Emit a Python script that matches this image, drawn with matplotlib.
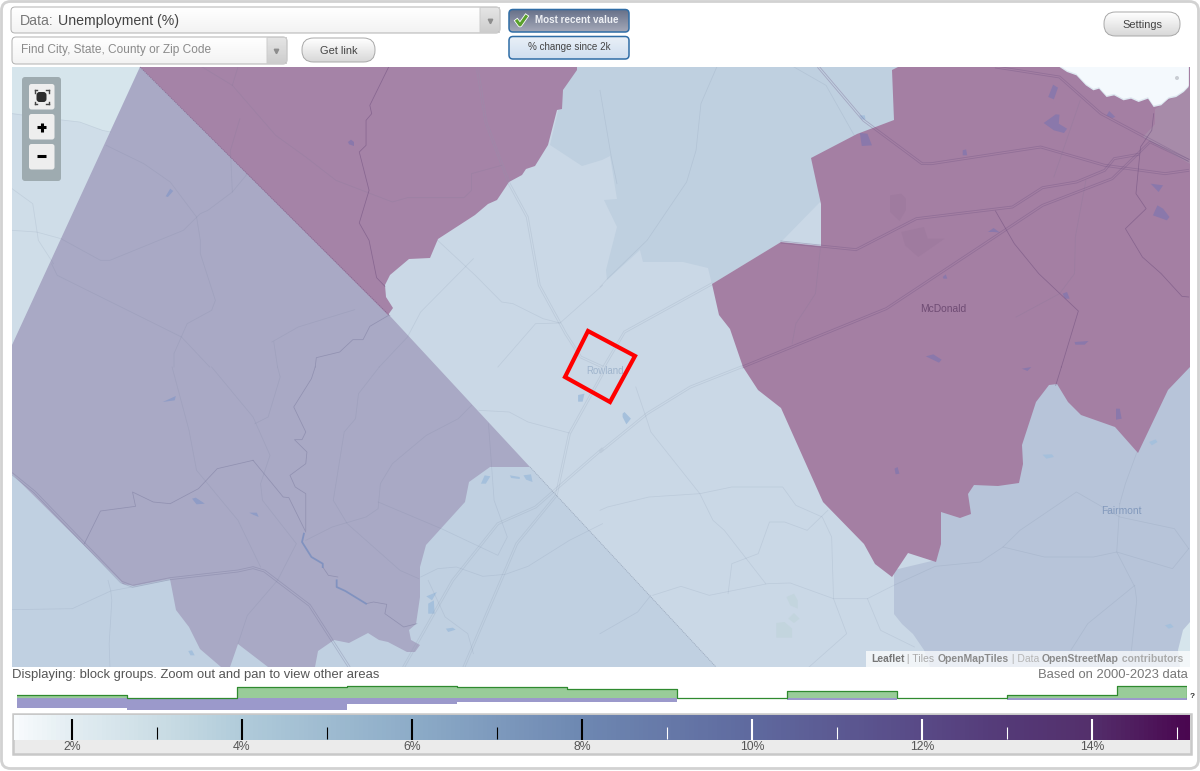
import numpy as np
import matplotlib
matplotlib.use("Agg")
import matplotlib.pyplot as plt
from matplotlib.patches import Polygon, Rectangle, FancyBboxPatch
from matplotlib.colors import LinearSegmentedColormap, to_rgb

plt.rcParams['font.family'] = ['Liberation Sans', 'DejaVu Sans']

# ---------- histogram + colour scale data ----------
bin_edges = [0, 1, 2, 3, 4, 5, 6, 7, 8, 9, 10, 10.64]
green_counts = [3, 0.5, 11, 12.5, 11, 9, 0.3, 7, 0.3, 3, 12.5]
purple_counts = [10, 12, 12, 6, 4, 4, 0, 2, 0, 2, 2]
major_ticks = [2, 4, 6, 8, 10, 12, 14]
minor_ticks = [3, 5, 7, 9, 11, 13, 15]
major_labels = ['2%', '4%', '6%', '8%', '10%', '12%', '14%']
scale_vals = [1.32, 2, 3, 4, 6, 8, 10, 12, 13, 14, 15.15]
scale_cols = ['#f8fbfd', '#e2edf2', '#cbdde5', '#b0cbda', '#8dacc8', '#6e88b2',
              '#5f6a9f', '#594a87', '#553a78', '#54306c', '#4a0750']

# ---------- map shapes ----------
Q1, Q2, Q3, Q4 = (12, 67), (12, 367), (600, 67), (600, 367)

poly_corner_light = [(12, 67), (140, 67), (12, 345)]
poly_corner_band = [(12, 113), (50, 118), (80, 122), (102, 130), (111, 132), (12, 345)]
poly_lowerleft = [(12, 440), (530, 467), (716, 667), (12, 667)]
poly_uppercentre = [(563, 90), (550, 145), (582, 166), (602, 160), (610, 156), (617, 199), (604, 200),
                    (617, 227), (606, 270), (607, 280), (640, 250), (643, 262), (683, 262), (708, 268),
                    (712, 284), (781, 242), (900, 120), (900, 67), (570, 67)]
poly_lowerright = [(894, 570), (894, 614), (902, 624), (913, 634), (924, 650), (930, 667), (1190, 667),
                   (1190, 360), (1040, 360), (1000, 470), (941, 500), (936, 560)]
poly_corner_br = [(1190, 622), (1183, 630), (1178, 650), (1180, 667), (1190, 667)]
poly_leftpurple = [(140, 67), (390, 316), (530, 467), (490, 467), (469, 482), (465, 502), (426, 545),
                   (420, 567), (420, 597), (416, 624), (409, 630), (411, 640), (420, 645), (415, 652),
                   (407, 652), (388, 642), (379, 640), (368, 633), (349, 643), (334, 640), (318, 651),
                   (315, 667), (268, 667), (238, 644), (230, 667), (221, 667), (200, 649), (189, 627),
                   (176, 610), (170, 579), (134, 586), (123, 584), (12, 474), (12, 345)]
poly_topdark = [(140, 67), (388, 315), (393, 308), (386, 297), (385, 285), (390, 275), (409, 259),
                (430, 258), (438, 239), (475, 215), (488, 204), (497, 200), (509, 182), (522, 175),
                (526, 169), (535, 166), (548, 145), (557, 110), (562, 109), (563, 90), (577, 70), (577, 67)]
poly_rightdark = [(712, 284), (719, 315), (730, 329), (743, 367), (758, 390), (781, 408), (823, 502),
                  (864, 544), (875, 564), (892, 577), (908, 553), (936, 562), (941, 544), (941, 512),
                  (960, 518), (971, 514), (968, 494), (974, 485), (998, 486), (1019, 483), (1023, 464),
                  (1022, 445), (1036, 402), (1049, 385), (1057, 384), (1068, 402), (1081, 415), (1115, 427),
                  (1138, 453), (1168, 390), (1190, 367), (1190, 67), (898, 67), (892, 70), (894, 120),
                  (857, 134), (811, 158), (821, 204), (821, 246), (781, 242)]
poly_rightmid = [(1155, 109), (1155, 124), (1143, 137), (1190, 164), (1190, 87)]
poly_white = [(1220, 0), (1240, 15), (1265, 25), (1290, 55), (1310, 70), (1325, 65), (1345, 90), (1365, 85),
              (1390, 100), (1410, 95), (1430, 105), (1455, 95), (1470, 120), (1490, 115), (1510, 95),
              (1530, 90), (1550, 75), (1563, 60), (1563, 0)]

thin_lines = [
    (Q1, [(0, 140), (100, 155), (180, 165), (240, 190), (262, 195)]),
    (Q1, [(0, 365), (55, 410), (70, 520), (110, 590)]),
    (Q1, [(0, 490), (65, 495), (130, 515), (235, 580), (260, 580), (455, 490), (500, 440), (520, 430), (585, 375), (625, 320)]),
    (Q1, [(250, 235), (350, 290), (420, 345), (490, 450), (500, 520), (500, 560), (540, 700), (530, 730), (465, 770), (430, 860), (430, 900)]),
    (Q1, [(105, 590), (120, 625), (450, 810), (525, 900)]),
    (Q1, [(505, 0), (585, 55), (700, 205), (780, 270), (860, 340), (1010, 405), (1050, 392), (1200, 392), (1220, 370), (1220, 320), (1300, 295)]),
    (Q1, [(600, 0), (585, 55)]),
    (Q1, [(605, 155), (580, 250), (585, 375)]),
    (Q1, [(690, 825), (760, 780), (910, 728)]),
    (Q1, [(695, 825), (705, 900)]),
    (Q1, [(975, 900), (1050, 810), (1085, 735), (1225, 575)]),
    (Q1, [(1130, 520), (1230, 625), (1300, 705), (1330, 710), (1410, 755), (1455, 768), (1568, 655)]),
    (Q1, [(1290, 900), (1390, 770), (1455, 768)]),
    (Q2, [(425, 0), (470, 190), (490, 310), (600, 460), (660, 600)]),
    (Q2, [(530, 0), (640, 150), (685, 265), (660, 350), (665, 400), (755, 530), (705, 640), (625, 745), (600, 830)]),
    (Q2, [(705, 0), (712, 30), (680, 150), (645, 170)]),
    (Q2, [(975, 0), (920, 80), (912, 155), (882, 195), (853, 400), (890, 470), (1030, 610), (1080, 635)]),
    (Q2, [(1220, 115), (1185, 155), (1100, 205), (1010, 290), (978, 350), (972, 425), (940, 450), (850, 480), (780, 520)]),
    (Q2, [(972, 405), (1140, 485), (1290, 565), (1315, 510), (1280, 400), (1265, 170)]),
    (Q2, [(255, 640), (262, 670), (265, 700), (258, 830), (260, 900)]),
    (Q2, [(0, 728), (160, 725), (262, 672), (420, 638)]),
    (Q2, [(1085, 630), (1130, 605), (1180, 600), (1250, 628), (1310, 622), (1370, 598), (1480, 520), (1568, 470)]),
    (Q2, [(1240, 130), (1320, 135), (1370, 165), (1480, 198)]),
    (Q2, [(1105, 640), (1150, 750), (1210, 800), (1225, 860)]),
    (Q3, [(0, 70), (30, 270), (45, 350)]),
    (Q3, [(310, 0), (268, 110), (255, 250), (230, 345), (125, 520), (20, 635), (0, 660)]),
    (Q3, [(515, 0), (600, 55), (675, 205)]),
    (Q3, [(585, 545), (572, 680), (520, 770), (510, 830)]),
    (Q3, [(1290, 340), (1262, 510), (1260, 620), (1220, 680), (1105, 750)]),
    (Q3, [(1275, 100), (1205, 330)]),
    (Q4, [(95, 60), (125, 160), (135, 195), (265, 380), (300, 460), (330, 490), (440, 650)]),
    (Q4, [(0, 430), (20, 420), (130, 390), (265, 380), (350, 360), (485, 360), (520, 415), (590, 450), (615, 510), (620, 695), (655, 800), (555, 900)]),
    (Q4, [(140, 685), (215, 658), (290, 685), (445, 650), (505, 648), (620, 695), (710, 695), (780, 655), (890, 598), (1010, 585), (1070, 540), (1115, 490), (1265, 375), (1380, 450), (1525, 485), (1563, 545)]),
    (Q4, [(135, 685), (100, 735), (0, 800)]),
    (Q4, [(340, 680), (350, 590), (420, 560), (450, 465), (490, 465), (550, 490), (605, 430)]),
    (Q4, [(710, 695), (745, 790), (835, 840)]),
    (Q4, [(1380, 410), (1395, 350), (1425, 257)]),
    (Q4, [(1380, 410), (1372, 555), (1420, 660), (1425, 700), (1410, 860)]),
    (Q4, [(1070, 540), (1180, 570), (1310, 570), (1372, 555), (1520, 605), (1563, 545)]),
    (Q4, [(1420, 655), (1295, 770), (1250, 850)]),
]
dark_lines = [
    (Q1, [(1000, 0), (950, 115), (955, 140), (940, 160), (940, 235), (922, 255), (948, 370), (922, 468), (948, 520), (968, 632), (990, 658)]),
    (Q3, [(1050, 432), (1100, 530), (1165, 620), (1270, 732), (1225, 900)]),
    (Q3, [(1470, 140), (1465, 190), (1435, 240), (1423, 380), (1450, 425), (1395, 485), (1440, 570), (1490, 620), (1545, 688), (1563, 690)]),
    (Q4, [(1225, 0), (1210, 55)]),
]
medium_lines = [
    (Q1, [(1000, 745), (950, 778), (932, 818), (905, 818), (870, 855), (808, 872), (805, 900)]),
    (Q2, [(805, 0), (795, 35), (748, 120), (780, 195), (770, 218), (750, 218), (783, 255), (780, 290), (738, 325), (752, 360), (780, 380), (780, 490)]),
    (Q2, [(640, 280), (720, 390), (735, 392), (780, 495)]),
    (Q2, [(640, 280), (545, 305), (495, 365), (420, 410), (375, 405), (320, 375), (328, 418), (235, 432), (192, 530)]),
    (Q2, [(825, 600), (840, 625), (865, 630)]),
    (Q2, [(940, 710), (960, 705), (995, 712), (990, 740), (1040, 780), (1075, 770)]),
]
river_line = [(775, 500), (770, 525), (795, 570), (825, 590), (825, 600)]
river_line2 = [(862, 640), (862, 660), (885, 672), (940, 710)]
roads = [
    (Q1, [(1235, 0), (1258, 165), (1320, 350), (1368, 450), (1400, 655), (1470, 800), (1510, 870), (1568, 900)], 'l'),
    (Q2, [(0, 320), (60, 375), (290, 645), (320, 658), (420, 635), (600, 612), (640, 602), (670, 612), (790, 715), (895, 900)], 'm'),
    (Q2, [(1040, 900), (1170, 640), (1290, 470), (1390, 420), (1568, 245)], 'l'),
    (Q2, [(1200, 900), (1340, 530), (1445, 385), (1480, 200), (1568, 20)], 'l'),
    (Q3, [(580, 0), (700, 160), (855, 290), (880, 290), (1170, 240), (1340, 295), (1500, 320), (1563, 310)], 'd'),
    (Q3, [(298, 650), (65, 795), (10, 900)], 'l'),
    (Q3, [(480, 525), (680, 548), (840, 455), (1095, 420), (1175, 362), (1265, 345), (1340, 310), (1365, 275), (1430, 262)], 'd'),
    (Q3, [(378, 900), (760, 725), (1175, 415), (1360, 335), (1460, 225), (1563, 280)], 'd'),
    (Q3, [(1050, 0), (1220, 30), (1330, 140), (1563, 280)], 'd'),
    (Q4, [(0, 255), (125, 140), (240, 60), (375, 0)], 'l'),
]
dash_diag = [(530, 467), (716, 667)]
water_purple = [
    (Q1, [(892, 225), (900, 218), (908, 225), (908, 237), (895, 232)]),
    (Q3, [(1190, 90), (1203, 53), (1216, 62), (1205, 97)]),
    (Q3, [(1178, 168), (1210, 142), (1220, 143), (1218, 170), (1240, 185), (1232, 198), (1205, 190)]),
    (Q3, [(690, 198), (710, 200), (722, 235), (695, 237)]),
    (Q3, [(963, 250), (972, 247), (975, 265), (963, 265)]),
    (Q3, [(1345, 145), (1352, 132), (1368, 150), (1360, 153)]),
    (Q3, [(1462, 350), (1495, 355), (1483, 375)]),
    (Q3, [(1468, 445), (1480, 415), (1495, 425), (1512, 450), (1505, 460)]),
    (Q3, [(1030, 495), (1045, 483), (1062, 497), (1045, 495)]),
    (Q3, [(910, 630), (918, 622), (922, 635), (912, 635)]),
    (Q3, [(1228, 680), (1240, 675), (1247, 695), (1235, 695)]),
    (Q3, [(1260, 825), (1297, 822), (1287, 833), (1262, 833)]),
    (Q3, [(865, 868), (885, 862), (907, 878), (900, 887)]),
    (Q4, [(782, 305), (790, 300), (795, 320), (785, 322)]),
    (Q4, [(1370, 125), (1380, 125), (1385, 155), (1370, 158)]),
    (Q4, [(1120, 5), (1145, 0), (1135, 12)]),
]
water_mid = [
    (Q1, [(408, 388), (420, 365), (428, 372), (414, 390)]),
    (Q2, [(400, 105), (435, 87), (432, 100)]),
    (Q2, [(478, 395), (488, 392), (512, 410), (490, 412)]),
    (Q2, [(630, 437), (650, 437), (655, 450), (640, 443)]),
]
water_light = [
    (Q2, [(1245, 350), (1255, 325), (1270, 328), (1258, 350)]),
    (Q2, [(1322, 325), (1348, 330), (1348, 336), (1325, 333)]),
    (Q2, [(1358, 325), (1378, 322), (1382, 345), (1365, 338)]),
    (Q2, [(1100, 688), (1128, 675), (1115, 700)]),
    (Q2, [(1105, 710), (1120, 700), (1122, 740), (1105, 740)]),
    (Q2, [(1152, 785), (1170, 782), (1178, 788), (1158, 795)]),
    (Q2, [(468, 852), (478, 850), (485, 865), (474, 865)]),
    (Q2, [(1503, 84), (1520, 80), (1515, 104), (1503, 104)]),
    (Q3, [(688, 145), (703, 145), (705, 158), (695, 157)]),
    (Q4, [(1175, 263), (1200, 262), (1205, 270), (1185, 275)]),
    (Q4, [(1458, 225), (1475, 217), (1480, 225), (1465, 235)]),
    (Q4, [(1500, 775), (1515, 770), (1523, 780), (1510, 785)]),
    (Q4, [(60, 140), (65, 135), (82, 155), (70, 172), (60, 150)]),
]
parks = [
    (Q4, [(495, 690), (515, 680), (525, 700), (525, 725), (505, 715)]),
    (Q4, [(500, 755), (515, 738), (530, 755), (515, 768)]),
    (Q4, [(468, 768), (490, 765), (510, 785), (510, 812), (468, 812)]),
]
town_areas = [
    (Q3, [(770, 385), (800, 380), (812, 395), (812, 430), (795, 462), (770, 435)]),
    (Q3, [(800, 495), (860, 480), (870, 515), (915, 515), (845, 570), (810, 535)]),
]
selection_square = [(588, 331), (635, 356), (610, 402), (565, 377)]
town_labels = [('Rowland', 605, 371, '#9fb4cc', 9.6), ('McDonald', 943, 309, '#6f4c74', 10.2), ('Fairmont', 1121, 511, '#8299bc', 10.2)]


def conv(origin, pts):
    return [(origin[0] + x / 2.655, origin[1] + y / 3.0) for x, y in pts]


def offset(path, d):
    p = np.array(path, float)
    t = np.gradient(p, axis=0)
    n = np.c_[-t[:, 1], t[:, 0]] / np.maximum(np.hypot(t[:, 0], t[:, 1])[:, None], 1e-6)
    return p + n * d


fig = plt.figure(figsize=(12, 7.71), dpi=100, facecolor='white')
ax = fig.add_axes([0, 0, 1, 1])
ax.set_xlim(0, 1200)
ax.set_ylim(771, 0)
ax.axis('off')

# page frame
ax.add_patch(FancyBboxPatch((1.5, 1.5), 1197, 767, boxstyle='round,pad=0,rounding_size=9',
                            fc='white', ec='#d2d2d2', lw=2.0, zorder=0))

# map
MAP = Rectangle((12, 67), 1178, 600, fc='#cad8e6', ec='none', zorder=1)
ax.add_patch(MAP)


def poly(pts, color, z=2, **kw):
    p = Polygon(pts, closed=True, fc=color, ec='none', zorder=z, **kw)
    ax.add_patch(p)
    p.set_clip_path(MAP)
    return p


poly(poly_corner_light, '#d6e5ec')
poly(poly_corner_band, '#cfdde8')
poly(poly_lowerleft, '#c0d0e1')
poly(poly_uppercentre, '#bfd0e0')
poly(poly_lowerright, '#b7c4d9')
poly(poly_corner_br, '#d6e5ec')
poly(poly_leftpurple, '#a9a9c5', z=3)
poly(poly_topdark, '#a583a7', z=3)
poly(poly_rightdark, '#a47fa3', z=3)
poly(poly_rightmid, '#a78ba9', z=3)
poly(conv(Q3, poly_white), '#dde8f0', z=3)
poly([(x, y - 1.5) for x, y in conv(Q3, poly_white)], '#f4f9fd', z=3)
ax.add_patch(plt.Circle((1177, 78), 2, fc='#c9cdd3', ec='none', zorder=3))

for o, pts in town_areas:
    poly(conv(o, pts), '#9f7b9f', z=4)
for o, pts in parks:
    poly(conv(o, pts), '#c3d5de', z=4)
for o, pts in water_purple:
    poly(conv(o, pts), '#8a78ab', z=4)
for o, pts in water_mid:
    poly(conv(o, pts), '#8f9cc6', z=4)
for o, pts in water_light:
    poly(conv(o, pts), '#a5c0dc', z=4)


def line(pts, color, lw, alpha, z=5, **kw):
    a = np.array(pts, float)
    ln, = ax.plot(a[:, 0], a[:, 1], color=color, lw=lw, alpha=alpha, zorder=z,
                  solid_joinstyle='round', **kw)
    ln.set_clip_path(MAP)
    return ln


for o, pts in thin_lines:
    line(conv(o, pts), '#5f6f8c', 0.55, 0.12)
for o, pts in medium_lines:
    line(conv(o, pts), '#6a6a90', 0.55, 0.38)
for o, pts in dark_lines:
    line(conv(o, pts), '#6a4a7a', 0.55, 0.5)
line(conv(Q2, river_line), '#7a8fbf', 1.3, 0.85)
line(conv(Q2, river_line2), '#7a8fbf', 1.3, 0.85)
for o, pts, kind in roads:
    c = conv(o, pts)
    col, al = {'d': ('#6b4f80', 0.32), 'm': ('#6a6a90', 0.28), 'l': ('#8b9bb0', 0.22)}[kind]
    for d in (-1.0, 1.0):
        line(offset(c, d), col, 0.6, al)
a = np.array(dash_diag, float)
ln, = ax.plot(a[:, 0], a[:, 1], color='#8895ab', lw=0.55, alpha=0.7, ls=(0, (1.5, 1)), zorder=5)
ln.set_clip_path(MAP)
ln, = ax.plot([140, 390], [67, 316], color='#7a5f8a', lw=0.6, alpha=0.7, ls=(0, (1.5, 1)), zorder=5)

ax.add_patch(Polygon(selection_square, closed=True, fc='none', ec='#ff0000', lw=3, zorder=7, joinstyle='miter'))
for name, x, y, col, size in town_labels:
    ax.text(x, y, name, color=col, fontsize=size * 0.72, ha='center', va='center', zorder=6)

# attribution
ax.add_patch(Rectangle((866, 651), 324, 16, fc='white', alpha=0.72, ec='none', zorder=8))
renderer = fig.canvas.get_renderer()
xpos = 871
for txt, col, w in [('Leaflet', '#777777', 'bold'), (' | Tiles ', '#aaaaaa', 'normal'), ('OpenMapTiles', '#8a8a8a', 'bold'),
                    (' | Data ', '#b5b5b5', 'normal'), ('OpenStreetMap', '#8a8a8a', 'bold'), (' contributors', '#aaaaaa', 'bold')]:
    t = ax.text(xpos, 659.5, txt.replace(' ', '\u00a0'), color=col, fontsize=7.45, fontweight=w, ha='left', va='center', zorder=9)
    xpos += t.get_window_extent(renderer).width

# zoom control
ax.add_patch(FancyBboxPatch((22, 77), 39, 104, boxstyle='round,pad=0,rounding_size=3', fc='#9eabb0', ec='none', zorder=8))
for by in (84, 114, 144):
    ax.add_patch(FancyBboxPatch((29, by), 25.5, 25.5, boxstyle='round,pad=0,rounding_size=2.5', fc='#eeeeee', ec='none', zorder=9))
ax.add_patch(FancyBboxPatch((36.5, 92), 10, 10, boxstyle='round,pad=0,rounding_size=3', fc='#2c2c2c', ec='none', zorder=10))
for sx, sy in ((-1, -1), (1, -1), (-1, 1), (1, 1)):
    cx, cy = 41.5 + sx * 7, 97 + sy * 7
    ax.plot([cx, cx - sx * 2.5], [cy, cy], color='#444444', lw=1.0, zorder=10)
    ax.plot([cx, cx], [cy, cy - sy * 2.5], color='#444444', lw=1.0, zorder=10)
ax.plot([37, 46], [127, 127], color='black', lw=2.2, zorder=10, solid_capstyle='butt')
ax.plot([41.5, 41.5], [122.5, 131.5], color='black', lw=2.2, zorder=10, solid_capstyle='butt')
ax.plot([37, 46], [156, 156], color='black', lw=2.2, zorder=10, solid_capstyle='butt')


# UI widgets
def grad_box(x0, y0, x1, y1, top, bottom, r, ec, lw=0.7, z=3):
    patch = FancyBboxPatch((x0, y0), x1 - x0, y1 - y0, boxstyle=f'round,pad=0,rounding_size={r}',
                           fc='none', ec=ec, lw=lw, zorder=z + 0.1)
    ax.add_patch(patch)
    t, b = np.array(to_rgb(top)), np.array(to_rgb(bottom))
    f = np.linspace(0, 1, 32)[:, None, None]
    img = t[None, None, :] * (1 - f) + b[None, None, :] * f
    im = ax.imshow(img, extent=(x0, x1, y1, y0), aspect='auto', zorder=z, interpolation='bilinear')
    im.set_clip_path(patch)


grad_box(11, 7, 500, 33, '#ffffff', '#f3f3f3', 4, '#b0b0b0')
grad_box(480, 7.5, 499.5, 32.5, '#e6e6e6', '#cdcdcd', 0.1, '#cccccc')
ax.text(20, 21, 'Data:', color='#777777', fontsize=10.2, va='center')
ax.text(58, 21, 'Unemployment (%)', color='#444444', fontsize=10.2, va='center')
ax.plot([490], [21], marker='v', ms=3.2, color='#8d8d8d', zorder=5)
grad_box(12, 37, 287, 64, '#ffffff', '#f3f3f3', 4, '#b0b0b0')
grad_box(267, 37.5, 286.5, 63.5, '#e6e6e6', '#cdcdcd', 0.1, '#cccccc')
ax.text(21, 50.5, 'Find City, State, County or Zip Code', color='#8a8a8a', fontsize=8.6, va='center')
ax.plot([276], [51], marker='v', ms=3.2, color='#8d8d8d', zorder=5)
grad_box(302, 38, 375, 62, '#ffffff', '#d8d8d8', 11.5, '#a8a8a8')
ax.text(338.5, 50.5, 'Get link', color='#444444', fontsize=7.9, ha='center', va='center', zorder=5)
grad_box(1104, 12, 1180, 36, '#ffffff', '#d8d8d8', 11.5, '#a8a8a8')
ax.text(1142, 24.5, 'Settings', color='#444444', fontsize=7.9, ha='center', va='center', zorder=5)
grad_box(509, 9.5, 629, 32, '#667088', '#a4a8b8', 4, '#2f6da6', lw=1.1)
ax.text(577, 20, 'Most recent value', color='#eef0f4', fontsize=7.1, fontweight='bold', ha='center', va='center', zorder=5)
ax.plot([517, 520, 526], [21, 25, 16.5], color='#ffffff', lw=3.4, zorder=5)
ax.plot([517, 520, 526], [21, 25, 16.5], color='#5aa02c', lw=2.2, zorder=5.1)
grad_box(509, 36.5, 629, 59, '#eaf0f7', '#cfdff0', 4, '#2f6da6', lw=1.1)
ax.text(569, 47, '% change since 2k', color='#444444', fontsize=7.1, ha='center', va='center', zorder=5)

ax.text(12, 675, 'Displaying: block groups. Zoom out and pan to view other areas', color='#555555',
        fontsize=9.35, va='center', zorder=5)
ax.text(1188, 675, 'Based on 2000-2023 data', color='#777777', fontsize=9.4, ha='right', va='center', zorder=5)
ax.text(1192, 696.5, '?', color='#333333', fontsize=6, fontweight='bold', ha='center', va='center', zorder=5)
# colour scale frame
ax.add_patch(Rectangle((13, 714), 1178, 40, fc='#ebebeb', ec='#c8c8c8', lw=1.8, zorder=4))

ax.set_xlim(0, 1200)
ax.set_ylim(771, 0)

# histogram, baseline at pixel row 698
hax = fig.add_axes([17 / 1200, 1 - 712 / 771, 1170 / 1200, 32 / 771])
hax.set_xlim(0, 10.636)
hax.set_ylim(-14, 18)
hax.axis('off')
e = np.array(bin_edges, float)
xs = np.repeat(e, 2)[1:-1]
g = np.repeat(green_counts, 2)
pv = np.repeat(purple_counts, 2)
hax.fill_between(xs, 0, -pv, color='#9b99cb', lw=0)
hax.fill_between(xs, 0, g, color='#99cc99', lw=0)
hax.plot(np.r_[xs, e[-1]], np.r_[g, 0], color='#2f8a2f', lw=0.9)

# colour scale
cax = fig.add_axes([14 / 1200, 1 - 752 / 771, 1176 / 1200, 37 / 771])
vmin, vmax = scale_vals[0], scale_vals[-1]
cax.axis('off')
cm = LinearSegmentedColormap.from_list('scale', [((v - vmin) / (vmax - vmin), c) for v, c in zip(scale_vals, scale_cols)])
cax.imshow(np.linspace(0, 1, 1176)[None, :], cmap=cm, extent=(vmin, vmax, 740, 715), aspect='auto')
cax.set_xlim(vmin, vmax)
cax.set_ylim(752, 715)
for v, lab in zip(major_ticks, major_labels):
    cax.plot([v, v], [719, 740], color='black' if v < 9 else 'white', lw=1.5, solid_capstyle='butt')
    cax.text(v, 747, lab, color='#555555', fontsize=8.8, ha='center', va='center')
for v in minor_ticks:
    cax.plot([v, v], [727, 739], color='black' if v < 8.5 else 'white', lw=0.8, solid_capstyle='butt')

fig.savefig('out.png', dpi=100, facecolor='white')
